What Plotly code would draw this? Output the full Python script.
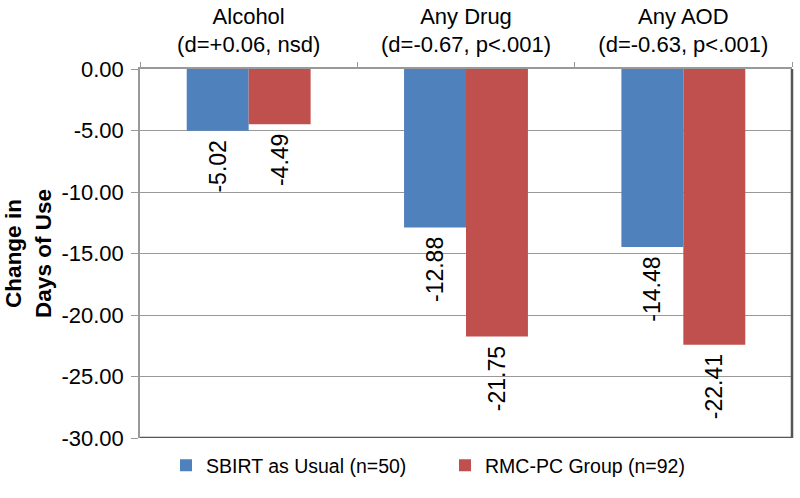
import plotly.graph_objects as go

categories = ["Alcohol<br>(d=+0.06, nsd)", "Any Drug<br>(d=-0.67, p<.001)", "Any AOD<br>(d=-0.63, p<.001)"]
sbirt_values = [-5.02, -12.88, -14.48]
rmc_values = [-4.49, -21.75, -22.41]
series_names = ["SBIRT as Usual (n=50)", "RMC-PC Group (n=92)"]
y_tick_values = [0, -5, -10, -15, -20, -25, -30]
y_tick_labels = ["0.00", "-5.00", "-10.00", "-15.00", "-20.00", "-25.00", "-30.00"]

FONT = "Liberation Sans, Arial, sans-serif"

fig = go.Figure()
for name, vals, color in [(series_names[0], sbirt_values, "#4F81BD"),
                          (series_names[1], rmc_values, "#C0504D")]:
    fig.add_trace(go.Bar(
        x=categories, y=vals, name=name,
        marker=dict(color=color, line=dict(width=0)),
        texttemplate="%{y:.2f}\u00a0", textposition="outside", textangle=-90,
        textfont=dict(family=FONT, size=23, color="#000000"),
        constraintext="none", cliponaxis=False,
    ))

fig.update_layout(
    width=800, height=498,
    paper_bgcolor="white", plot_bgcolor="white",
    barmode="group", bargap=0.43, bargroupgap=0,
    margin=dict(l=140, r=8, t=69, b=60),
    font=dict(family=FONT, size=21, color="#000000"),
    showlegend=True,
    legend=dict(orientation="h", x=(166 - 140) / 652, xanchor="left", y=-0.075, yanchor="middle",
                font=dict(family=FONT, size=19.5, color="#000000"),
                entrywidth=234, entrywidthmode="pixels",
                itemsizing="constant", traceorder="normal"),
    xaxis=dict(side="top", showline=True, linecolor="#999999", linewidth=1.5,
               ticks="outside", tickson="boundaries", ticklen=5, tickcolor="#999999",
               ticklabelstandoff=6, automargin=False,
               tickfont=dict(family=FONT, size=22, color="#000000"),
               showgrid=False, zeroline=False, fixedrange=True),
    yaxis=dict(range=[-30, 0], tickvals=y_tick_values, ticktext=y_tick_labels,
               showline=True, linecolor="#999999", linewidth=1.5,
               ticks="outside", ticklen=7, tickcolor="#999999",
               ticklabelstandoff=3, automargin=False,
               showgrid=True, gridcolor="#999999", gridwidth=1, zeroline=False,
               tickfont=dict(family=FONT, size=22, color="#000000"),
               title=dict(text="<b>Change in<br>Days of Use</b>", standoff=4,
                          font=dict(family=FONT, size=22.5, color="#000000")),
               fixedrange=True),
    shapes=[
        dict(type="line", xref="paper", yref="y", x0=0, x1=1, y0=-30, y1=-30,
             line=dict(color="#555555", width=2.5)),
        dict(type="line", xref="paper", yref="y", x0=1, x1=1, y0=-30, y1=0,
             line=dict(color="#555555", width=2.5)),
    ],
)

fig.write_html("out.html", config={"displayModeBar": False},
               post_script="document.body.style.margin='0';")
